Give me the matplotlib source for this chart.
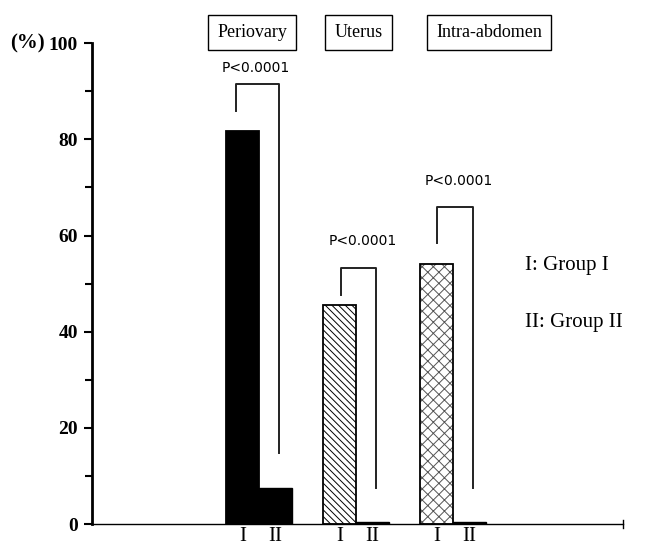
import numpy as np
import matplotlib
matplotlib.use("Agg")
import matplotlib.pyplot as plt
from matplotlib.ticker import MultipleLocator

# data
sites = ['Periovary', 'Uterus', 'Intra-abdomen']
group1 = [81.7, 45.5, 54.0]
group2 = [7.5, 0.4, 0.4]
p_text = ['P<0.0001', 'P<0.0001', 'P<0.0001']
bracket_top = [91.5, 53.2, 65.9]
bracket_left_bottom = [85.9, 47.6, 58.4]
bracket_right_bottom = [14.8, 7.5, 7.5]
bar_labels = ['I', 'II']
legend_lines = ['I: Group I', 'II: Group II']

plt.rcParams['font.family'] = ['Liberation Serif', 'DejaVu Serif']
plt.rcParams['hatch.linewidth'] = 0.7

fig = plt.figure(figsize=(6.46, 5.47), dpi=100)
ax = fig.add_axes([0.1424, 0.042, 0.822, 0.879])

x = np.arange(len(sites))
w = 0.34
fills = [dict(color='black', edgecolor='black'),
         dict(color='white', edgecolor='black', hatch='\\\\\\\\\\'),
         dict(color='white', edgecolor='#555555', hatch='xxx')]
for i in range(len(sites)):
    ax.bar(x[i] - w / 2, group1[i], w, linewidth=0, **fills[i])
    # outline on top
    ax.bar(x[i] - w / 2, group1[i], w, fill=False, edgecolor='black', linewidth=1.3)
    ax.bar(x[i] + w / 2, group2[i], w, color='black', edgecolor='black', linewidth=1)

# significance brackets
left_off = [-0.24, -0.15, -0.17]
right_off = [0.21, 0.21, 0.20]
p_off = [-0.03, 0.07, 0.06]
p_gap = [3.3, 5.6, 5.4]
for i in range(len(sites)):
    xl = x[i] + left_off[i]
    xr = x[i] + right_off[i]
    ax.plot([xl, xl, xr, xr],
            [bracket_left_bottom[i], bracket_top[i], bracket_top[i], bracket_right_bottom[i]],
            color='#222222', lw=1.4, clip_on=False)
    ax.text(x[i] + p_off[i], bracket_top[i] + p_gap[i], p_text[i], ha='center', va='center',
            fontsize=10, family=['DejaVu Sans'], clip_on=False)

# site boxes above the plot
box_x = [-0.067, 0.026, 0.37]
for i, s in enumerate(sites):
    ax.text(x[i] + box_x[i], 102.2, s, ha='center', va='center', fontsize=13,
            bbox=dict(boxstyle='square,pad=0.5', fc='white', ec='black', lw=1),
            clip_on=False)

# group legend
ax.text(2.74, 53.8, legend_lines[0], ha='left', va='center', fontsize=15)
ax.text(2.74, 42.0, legend_lines[1], ha='left', va='center', fontsize=15)

ax.annotate('(%)', xy=(0, 1), xycoords='axes fraction', xytext=(-34, 0),
            textcoords='offset points', ha='right', va='center',
            fontsize=15, fontweight='bold')

ax.set_xlim(-1.72, 3.75)
ax.set_ylim(0, 100)
pos = [xi + d for xi in x for d in (-w / 2, w / 2)]
ax.set_xticks(pos)
ax.set_xticklabels(bar_labels * len(sites), fontsize=15)
ax.tick_params(axis='x', length=0, pad=2)

ax.yaxis.set_major_locator(MultipleLocator(20))
ax.yaxis.set_minor_locator(MultipleLocator(10))
ax.tick_params(axis='y', which='major', length=6, width=1.5, labelsize=14, pad=4)
ax.tick_params(axis='y', which='minor', length=5, width=1.5)
for lab in ax.get_yticklabels():
    lab.set_fontweight('bold')

ax.spines['top'].set_visible(False)
ax.spines['right'].set_visible(False)
ax.spines['left'].set_linewidth(2)
ax.spines['bottom'].set_linewidth(1)
ax.plot([3.75, 3.75], [-0.8, 0.8], color='black', lw=1, clip_on=False)

fig.savefig('out.png', dpi=100)
